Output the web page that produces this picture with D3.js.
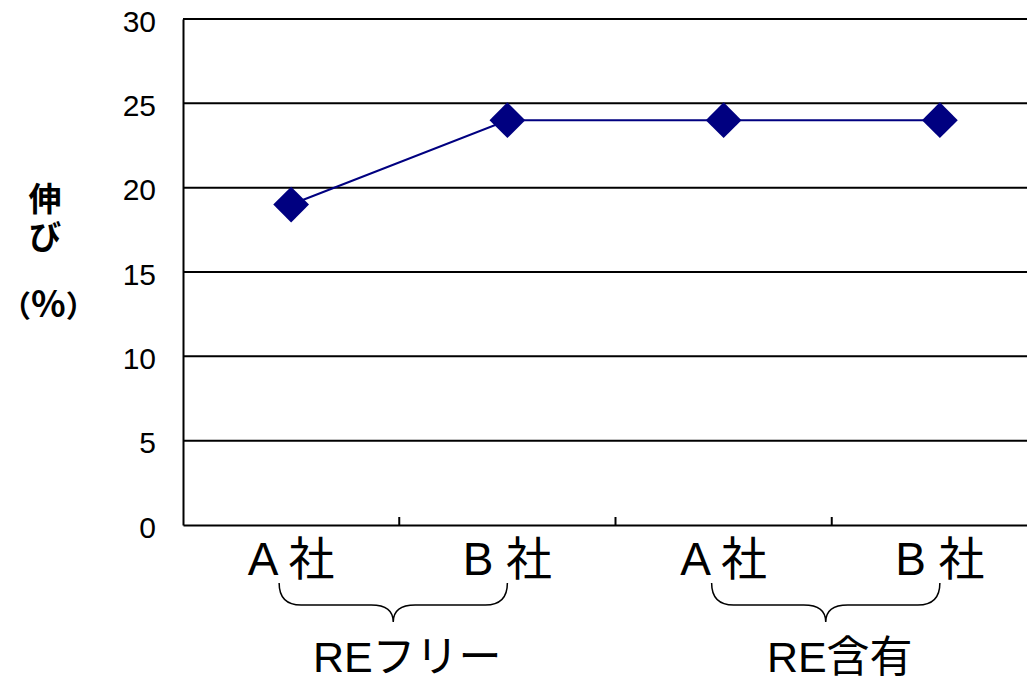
<!DOCTYPE html>
<html>
<head>
<meta charset="utf-8">
<script src="https://cdn.jsdelivr.net/npm/d3@7"></script>
<style>
  html, body { margin: 0; padding: 0; background: #fff; }
  svg { display: block; }
  text { font-family: "Liberation Sans", Arial, "Noto Sans CJK JP", sans-serif; }
</style>
</head>
<body>
<svg id="chart" width="1027" height="680"></svg>
<script>
// Elongation (%) by supplier, grouped by RE-free / RE-containing material
const categories = ["A 社", "B 社", "A 社 ", "B 社 "];
const elongation = [19, 24, 24, 24];
const yTicks = [0, 5, 10, 15, 20, 25, 30];
const groups = [
  { label: "REフリー", members: ["A 社", "B 社"] },
  { label: "RE含有", members: ["A 社 ", "B 社 "] }
];
const yTitleMain = "伸び";
const yTitleUnit = ["（", "%", "）"];

const svg = d3.select("#chart");
const plot = { left: 183, right: 1048, top: 19, bottom: 525 };

const x = d3.scaleBand().domain(categories).range([plot.left, plot.right]);
const y = d3.scaleLinear().domain([0, 30]).range([plot.bottom, plot.top]);
const cx = d => x(d) + x.bandwidth() / 2;

// horizontal gridlines
svg.append("g")
  .selectAll("line")
  .data(yTicks.filter(t => t > 0))
  .join("line")
  .attr("x1", plot.left).attr("x2", plot.right)
  .attr("y1", d => y(d)).attr("y2", d => y(d))
  .attr("stroke", "#000").attr("stroke-width", 2);

// y axis
const yAxis = svg.append("g")
  .attr("transform", `translate(${plot.left},0)`)
  .call(d3.axisLeft(y).tickValues(yTicks).tickSize(0).tickPadding(27));
yAxis.select(".domain").attr("stroke", "#000").attr("stroke-width", 2);
yAxis.selectAll("text")
  .attr("font-size", 30)
  .attr("dy", "0.4em")
  .attr("fill", "#000")
  .style("font-family", "'Liberation Sans', Arial, sans-serif");

// x axis with ticks between categories, pointing into the plot
const xAxis = svg.append("g")
  .attr("transform", `translate(0,${plot.bottom})`)
  .call(d3.axisBottom(x).tickSize(0).tickFormat(""));
xAxis.select(".domain").attr("stroke", "#000").attr("stroke-width", 2);
svg.append("g")
  .selectAll("line")
  .data(categories.slice(1))
  .join("line")
  .attr("x1", d => x(d)).attr("x2", d => x(d))
  .attr("y1", plot.bottom).attr("y2", plot.bottom - 8)
  .attr("stroke", "#000").attr("stroke-width", 2);

// category labels
svg.append("g")
  .selectAll("text")
  .data(categories)
  .join("text")
  .attr("x", d => cx(d))
  .attr("y", 575)
  .attr("text-anchor", "middle")
  .attr("font-size", 46)
  .attr("fill", "#000")
  .text(d => d.trim());

// series line
const series = categories.map((c, i) => ({ c, v: elongation[i] }));
svg.append("path")
  .datum(series)
  .attr("fill", "none")
  .attr("stroke", "#000080")
  .attr("stroke-width", 2)
  .attr("d", d3.line().x(d => cx(d.c)).y(d => y(d.v)));

// diamond markers
svg.append("g")
  .selectAll("path")
  .data(series)
  .join("path")
  .attr("transform", d => `translate(${cx(d.c)},${y(d.v)}) rotate(45)`)
  .attr("d", d3.symbol().type(d3.symbolSquare).size(640))
  .attr("fill", "#000080");

// group braces and labels
const braceTop = 583, braceMid = 605, braceTip = 622, r = 22;
function bracePath(x1, x2) {
  const m = (x1 + x2) / 2;
  return `M${x1},${braceTop} Q${x1},${braceMid} ${x1 + r},${braceMid}` +
         ` L${m - r},${braceMid} Q${m},${braceMid} ${m},${braceTip}` +
         ` Q${m},${braceMid} ${m + r},${braceMid}` +
         ` L${x2 - r},${braceMid} Q${x2},${braceMid} ${x2},${braceTop}`;
}
const g = svg.append("g");
groups.forEach(grp => {
  const a = cx(grp.members[0]);
  const b = cx(grp.members[1]);
  g.append("path")
    .attr("d", bracePath(a - 12, b))
    .attr("fill", "none")
    .attr("stroke", "#000")
    .attr("stroke-width", 1.5);
  g.append("text")
    .attr("x", (a + b) / 2 + 8)
    .attr("y", 672)
    .attr("text-anchor", "middle")
    .attr("font-size", 43)
    .attr("fill", "#000")
    .text(grp.label);
});

// y axis title: "伸び" set vertically, unit below it
svg.append("text")
  .attr("x", 45)
  .attr("y", 182)
  .attr("font-size", 33)
  .attr("font-weight", "bold")
  .attr("fill", "#000")
  .style("font-family", "'Noto Sans CJK JP', sans-serif")
  .style("writing-mode", "vertical-rl")
  .style("letter-spacing", "5px")
  .text(yTitleMain);
svg.append("text")
  .attr("x", 1)
  .attr("y", 317)
  .attr("text-anchor", "start")
  .attr("font-weight", "bold")
  .attr("fill", "#000")
  .style("font-family", "'Noto Sans CJK JP', sans-serif")
  .selectAll("tspan")
  .data(yTitleUnit)
  .join("tspan")
  .attr("font-size", (d, i) => i === 1 ? 36 : 30)
  .text(d => d);
</script>
</body>
</html>
